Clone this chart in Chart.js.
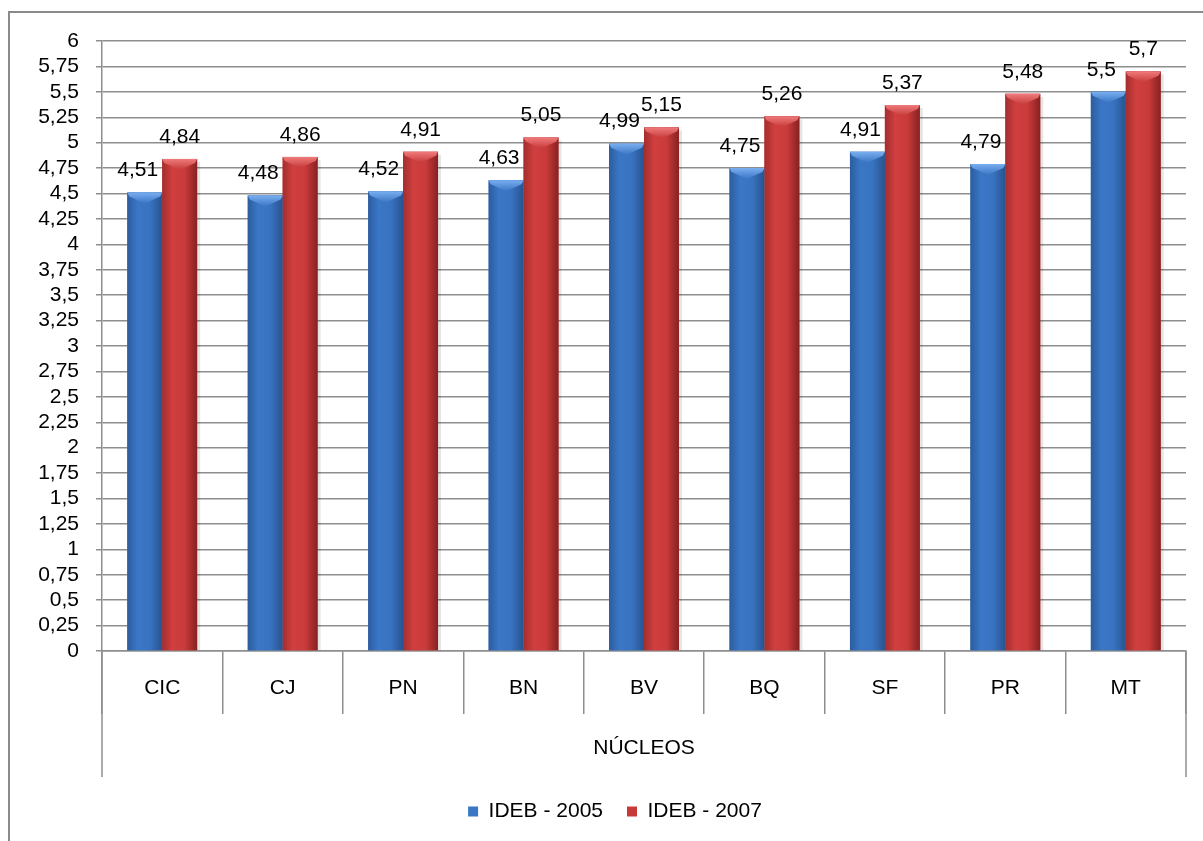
<!DOCTYPE html>
<html><head><meta charset="utf-8">
<script src="https://cdn.jsdelivr.net/npm/chart.js@4.4.0/dist/chart.umd.min.js"></script>
<style>html,body{margin:0;padding:0;background:#fff;overflow:hidden}</style>
</head><body>
<canvas id="c" width="1203" height="841"></canvas>
<script>
const categories = ['CIC','CJ','PN','BN','BV','BQ','SF','PR','MT'];
const ideb2005 = [4.51,4.48,4.52,4.63,4.99,4.75,4.91,4.79,5.5];
const ideb2007 = [4.84,4.86,4.91,5.05,5.15,5.26,5.37,5.48,5.7];
const seriesNames = ['IDEB - 2005','IDEB - 2007'];
const axisTitle = 'NÚCLEOS';
const yMin = 0, yMax = 6, yStep = 0.25;

const FONT = "'Liberation Sans', Arial, sans-serif";
const FS = 21;
const GRID = '#8e8e8e';
const fmt = v => String(Math.round(v*100)/100).replace('.', ',');

const palettes = [
  {stops:[[0,'#2c5c9e'],[0.3,'#3a77c6'],[0.65,'#3873c0'],[1,'#285390']], light:'#79aef0', base:'#3a76c4', labelDx:-7},
  {stops:[[0,'#a32e2e'],[0.3,'#d13f3f'],[0.65,'#c93a3a'],[1,'#872121']], light:'#f07a7a', base:'#c63a3a', labelDx:0}
];

const framePlugin = {
  id:'frame',
  beforeDraw(chart){
    const ctx = chart.ctx;
    ctx.save();
    ctx.fillStyle='#fff'; ctx.fillRect(0,0,chart.width,chart.height);
    ctx.strokeStyle='#8a8a8a'; ctx.lineWidth=2;
    ctx.strokeRect(9,12,1210,840);
    ctx.restore();
  },
  afterLayout(chart){
    if (chart.legend) { chart.legend.left += 44; }
  },
  afterDraw(chart){
    const ctx = chart.ctx, a = chart.chartArea, xs = chart.scales.x;
    ctx.save();
    ctx.strokeStyle=GRID; ctx.lineWidth=1.5;
    ctx.beginPath();
    ctx.moveTo(a.left, a.bottom); ctx.lineTo(a.left, xs.bottom);
    ctx.moveTo(a.right, a.bottom); ctx.lineTo(a.right, xs.bottom);
    ctx.stroke();
    ctx.restore();
  }
};

const barStylePlugin = {
  id:'barStyle',
  afterDatasetsDraw(chart){
    const ctx = chart.ctx;
    chart.data.datasets.forEach((ds, di) => {
      const meta = chart.getDatasetMeta(di);
      const pal = palettes[di];
      meta.data.forEach((el) => {
        const {x, y, base, width} = el.getProps(['x','y','base','width'], true);
        const x0 = x - width/2, x1 = x + width/2;
        ctx.save();
        ctx.fillStyle='rgba(0,0,0,0.10)';
        ctx.fillRect(x1, y+3, 3, base-y-3);
        const g = ctx.createLinearGradient(x0,0,x1,0);
        pal.stops.forEach(s => g.addColorStop(s[0], s[1]));
        ctx.fillStyle = g;
        ctx.fillRect(x0, y, width, base-y);
        const vg = ctx.createLinearGradient(0,y,0,y+11);
        vg.addColorStop(0, pal.light);
        vg.addColorStop(1, pal.base);
        ctx.fillStyle = vg;
        ctx.beginPath();
        ctx.moveTo(x0, y); ctx.lineTo(x1, y); ctx.lineTo(x1-2, y+4);
        ctx.lineTo(x, y+11); ctx.lineTo(x0+2, y+4); ctx.closePath();
        ctx.fill();
        ctx.restore();
      });
    });
    ctx.save();
    ctx.fillStyle='#000'; ctx.font = FS + 'px ' + FONT;
    ctx.textAlign='center'; ctx.textBaseline='middle';
    chart.data.datasets.forEach((ds, di) => {
      chart.getDatasetMeta(di).data.forEach((el, i) => {
        const {x, y} = el.getProps(['x','y'], true);
        ctx.fillText(fmt(ds.data[i]), x + palettes[di].labelDx, y - 22);
      });
    });
    ctx.restore();
  }
};

new Chart(document.getElementById('c'), {
  type:'bar',
  data:{
    labels: categories,
    datasets:[
      {label: seriesNames[0], data: ideb2005, backgroundColor: palettes[0].base, borderWidth:0},
      {label: seriesNames[1], data: ideb2007, backgroundColor: palettes[1].base, borderWidth:0}
    ]
  },
  options:{
    responsive:false, animation:false, devicePixelRatio:1,
    categoryPercentage:0.58, barPercentage:1,
    layout:{padding:{left:0, right:17, top:41, bottom:9}},
    plugins:{
      tooltip:{enabled:false},
      legend:{
        position:'bottom',
        labels:{boxWidth:10, boxHeight:10, padding:24, color:'#000', font:{family:FONT, size:FS}}
      }
    },
    scales:{
      x:{
        offset:true,
        grid:{offset:true, drawOnChartArea:false, drawTicks:true, tickLength:63, color:GRID, lineWidth:1.5},
        border:{display:true, color:GRID, width:1.5},
        ticks:{color:'#000', font:{family:FONT, size:FS}, padding:-38, maxRotation:0},
        title:{display:true, text:axisTitle, color:'#000', font:{family:FONT, size:FS}, padding:{top:0, bottom:16}},
        afterFit(s){ s.height = 126; }
      },
      y:{
        min:yMin, max:yMax,
        grid:{color:GRID, lineWidth:1.5, tickLength:6},
        border:{display:true, color:GRID, width:1.5},
        ticks:{stepSize:yStep, autoSkip:false, color:'#000', font:{family:FONT, size:FS}, padding:17, callback:v => fmt(v)},
        afterFit(s){ s.width = 102; }
      }
    }
  },
  plugins:[framePlugin, barStylePlugin]
});
</script>
</body></html>
